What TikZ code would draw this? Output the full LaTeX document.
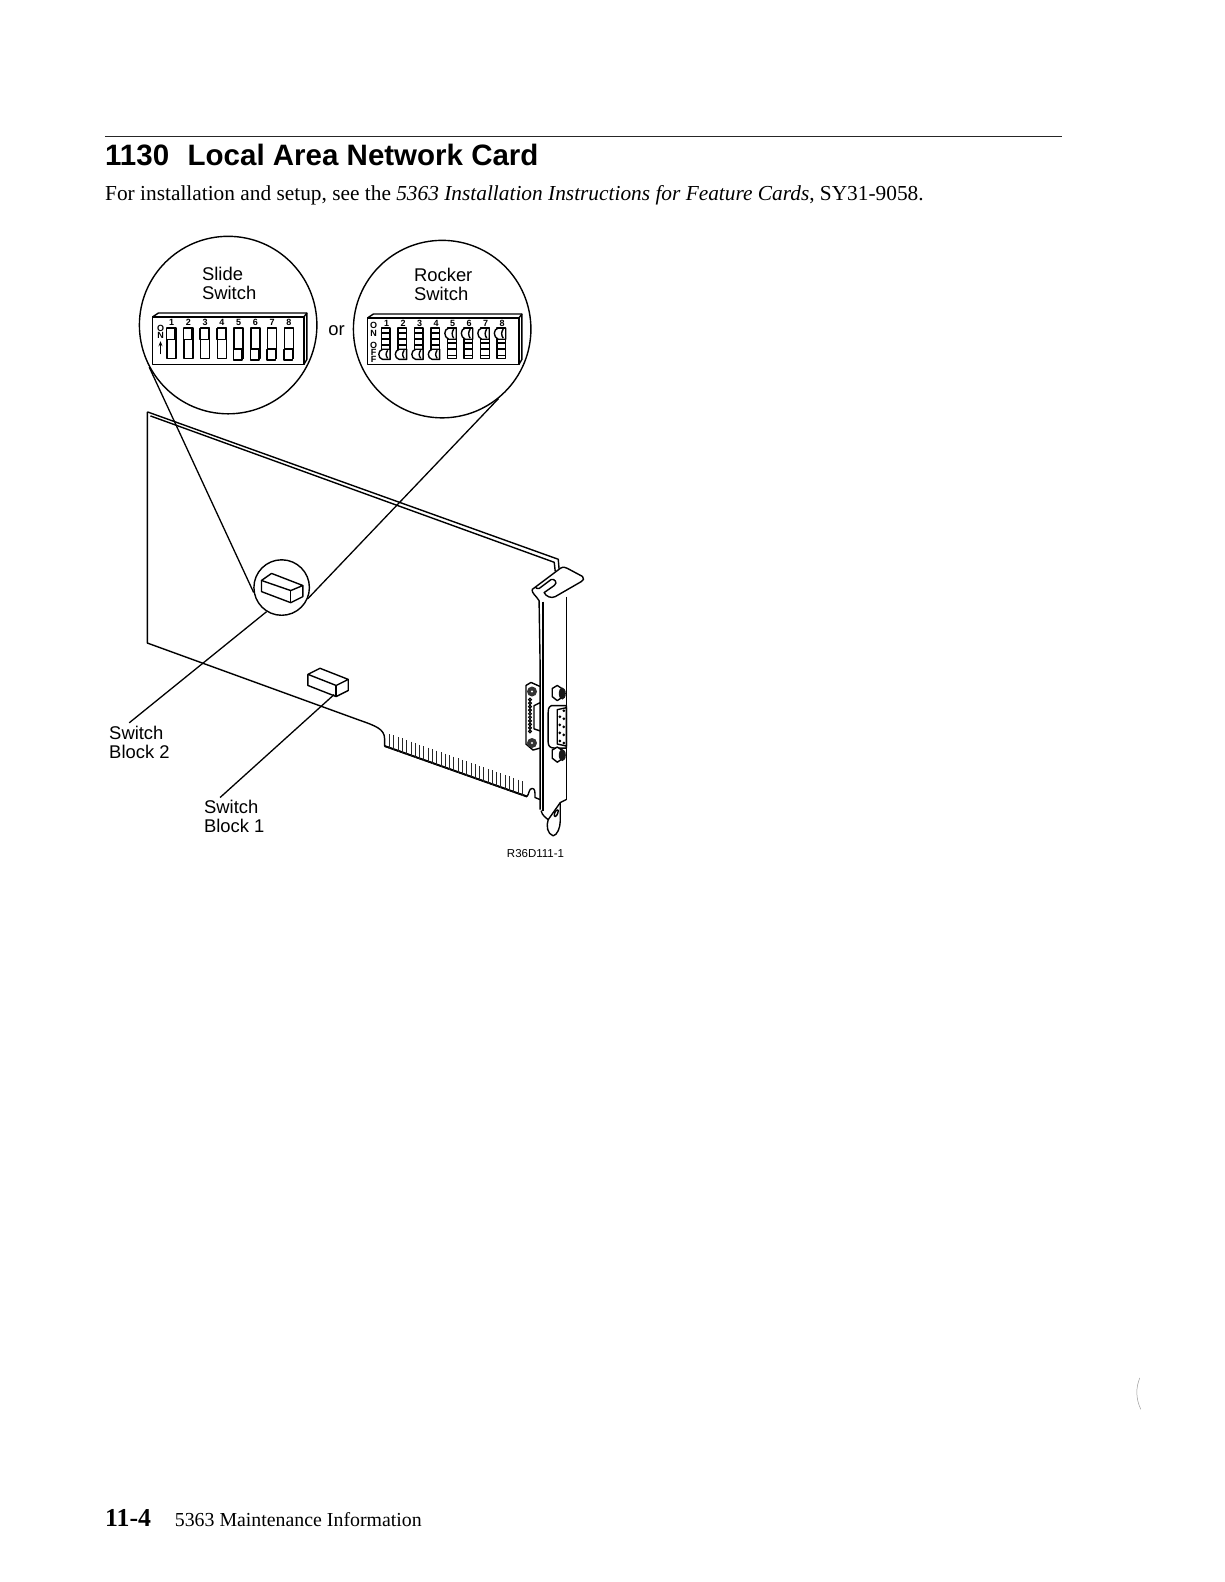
\documentclass[tikz,border=0pt]{standalone}
\usepackage{fontspec}
\usetikzlibrary{arrows.meta}
\setmainfont{Liberation Serif}
\setsansfont{Liberation Sans}
\tikzset{
  ln/.style={line width=1.4pt,line join=round,black},
  zoomc/.style={circle,draw=black,line width=1.4pt,inner sep=0pt},
  lbl/.style={font=\fontsize{18.4}{19.6}\selectfont\sffamily,align=left,anchor=north west,inner sep=0pt,black},
  tiny/.style={font=\fontsize{9}{9}\selectfont\sffamily\bfseries,inner sep=0pt,black},
  leader/.style={line width=1.3pt,black}
}
\begin{document}
\begin{tikzpicture}[x=1.0095pt,y=-1.0095pt]
\useasboundingbox (0,0) rectangle (1212.48,1567.1);
% page text
\draw[line width=0.9pt,black!85] (104,135) -- (1052,135);
\node[anchor=west,inner sep=0pt] (title) at (104,154) {\fontsize{29.5}{32}\selectfont\sffamily\bfseries 1130\hspace{0.35em} Local Area Network Card};
\node[anchor=west,inner sep=0pt] (intro) at (104,193) {\fontsize{21.35}{23}\selectfont For installation and setup, see the \textit{5363 Installation Instructions for Feature Cards}, SY31-9058.};
\node[anchor=west,inner sep=0pt] (foot1) at (104,1504) {\fontsize{25.8}{27}\selectfont\bfseries 11-4};
\node[anchor=west,inner sep=0pt] (foot2) at (173,1505) {\fontsize{19.85}{21}\selectfont 5363 Maintenance Information};
\draw[line width=0.5pt,black!40] (1129,1365) .. controls (1125,1375) and (1125,1385) .. (1130,1396);
% circles
\node[zoomc,minimum size=177.5pt] (slide) at (226,322) {};
\node[zoomc,minimum size=177.5pt] (rocker) at (438,326) {};
\node[zoomc,minimum size=55.5pt] (small) at (279,582) {};
\node[lbl] (slidelbl) at (200,264) {Slide\\Switch};
\node[lbl] (rockerlbl) at (410,265) {Rocker\\Switch};
\node[lbl] (orlbl) at (325,322) {or};
\node[lbl] (sb2) at (108,719) {Switch\\Block 2};
\node[lbl] (sb1) at (202,792) {Switch\\Block 1};
\node[anchor=west,inner sep=0pt,font=\fontsize{11.5}{12}\selectfont\sffamily] (fig) at (502,845) {R36D111-1};
% slide switch block
\begin{scope}[shift={(-2,-2)}]
\draw[ln] (153,316) rectangle (303,363);
\draw[ln] (153,316) -- (159,312) -- (306,312) -- (306,358) -- (303,363);
\draw[ln] (303,316) -- (306,312);
\foreach \i in {1,...,8}{
  \pgfmathsetmacro\xx{167.5+16.6*(\i-1)}
  \node[tiny] at (\xx+4.5,321) {\i};
  \draw[ln] (\xx,327) rectangle (\xx+9,357);
  \ifnum\i<5
    \draw[ln,fill=white] (\xx-0.5,327.5) rectangle (\xx+8,338);
    \draw[line width=1.8pt] (\xx+8.5,328) -- (\xx+8.5,338);
  \else
    \draw[ln,fill=white] (\xx-0.5,348) rectangle (\xx+8,358.5);
    \draw[line width=1.8pt] (\xx+8.5,347) -- (\xx+8.5,358);
    \draw[line width=1.8pt] (\xx,347.5) -- (\xx+9,347.5);
  \fi
}
\node[tiny] at (161,327) {O};
\node[tiny] at (161,334) {N};
\draw[line width=1pt,-{Stealth[length=5pt,width=4pt]}] (161,353) -- (161,340);
\end{scope}
% rocker switch block
\begin{scope}[shift={(-2,-2)}]
\draw[ln] (366,317) rectangle (516,363);
\draw[ln] (366,317) -- (372,313) -- (519,313) -- (519,358) -- (516,363);
\draw[ln] (516,317) -- (519,313);
\foreach \i in {1,...,8}{
  \pgfmathsetmacro\xx{380+16.35*(\i-1)}
  \node[tiny] at (\xx+5,322) {\i};
  \draw[ln] (\xx,327) rectangle (\xx+8.5,357);
  \ifnum\i<5
    \foreach \yy in {332,338,344}{\draw[line width=1.6pt] (\xx,\yy) -- (\xx+8.5,\yy);}
    \draw[ln,fill=white] (\xx+8.5,348) -- (\xx+1,348) .. controls (\xx-4,349) and (\xx-4,357) .. (\xx+1,358) -- (\xx+8.5,358) -- cycle;
    \draw[ln] (\xx+6,349) .. controls (\xx+4,352) and (\xx+4,354) .. (\xx+6,357);
  \else
    \foreach \yy in {342,348,354}{\draw[line width=1.6pt] (\xx,\yy) -- (\xx+8.5,\yy);}
    \draw[ln,fill=white] (\xx+8.5,327) -- (\xx+1,327) .. controls (\xx-4,328) and (\xx-4,336) .. (\xx+1,338) -- (\xx+8.5,338) -- cycle;
    \draw[ln] (\xx+6,328) .. controls (\xx+4,331) and (\xx+4,334) .. (\xx+6,337);
  \fi
}
\foreach \yy/\tt in {324/O,332/N,344/O,351/F,358/F}{\node[tiny] at (372,\yy) {\tt};}
\end{scope}
% adapter card
\draw[ln] (146,408) -- (146,637) -- (355,713) .. controls (372,719) and (381,722) .. (381,732) -- (381,739) -- (522,789);
\draw[line width=1.9pt,black] (381,739) -- (522,789);
\draw[ln] (146,408) -- (553,554) -- (554,566);
\draw[ln] (149,412) -- (549,557) -- (550,566);
\draw[ln] (522,789) .. controls (524,787) and (524,781) .. (527,781) .. controls (530,781) and (530,784) .. (530,790) -- (535,792);
\foreach \i in {0,...,31}{
  \pgfmathsetmacro\tx{386+4.24*\i}
  \pgfmathsetmacro\ty{727+0.355*4.24*\i}
  \draw[line width=1pt,black!85] (\tx,\ty) -- (\tx,\ty+14.5);
}
% bracket
\draw[ln,fill=white] (527,584) -- (555,563) .. controls (558,561) and (560,562) .. (562,563) -- (577,571) .. controls (579,573) and (578,575) .. (576,576) -- (550,591) .. controls (546,593) and (541,591) .. (539,587) -- (549,580) .. controls (553,577) and (549,573) .. (546,574) -- (534,583) .. controls (532,584) and (531,582) .. (530,581);
\draw[ln] (527,584) .. controls (527,588) and (531,590) .. (534,595) -- (535,656) -- (535,802);
\draw[line width=1.8pt] (538,596) -- (538,803);
\draw[ln] (561,591) -- (561,792);
\draw[ln] (536,803) .. controls (537,808) and (541,810) .. (543,812) -- (555,795) -- (561,792);
\draw[ln] (543,812) .. controls (541,818) and (542,826) .. (548,828) .. controls (552,827) and (555,820) .. (555,813) -- (555,795);
\draw[ln,fill=white] (549,808) .. controls (549,803) and (553,801) .. (553,803) .. controls (553,806) and (550,811) .. (549,808) -- cycle;
% rear connector
\draw[ln,fill=white] (521,679) -- (526,676) -- (535,680) -- (535,741) -- (528,743) -- (521,737) -- cycle;
\draw[ln,fill=white] (529,699) -- (535,696) -- (535,724) -- (529,722) -- cycle;
\foreach \yy in {693,696.5,...,726}{\draw[line width=1pt,fill=black!50] (525,\yy) circle (1.5pt);}
\fill[black!80] (527,685) circle (5pt);
\fill[black!80] (527,736) circle (5pt);
\fill[white] (527,685) circle (1.2pt);
\fill[white] (527,736) circle (1.2pt);
% D-shell connector
\draw[ln,fill=white] (546,699) .. controls (543,701) and (543,703) .. (543,706) -- (543,735) .. controls (543,739) and (545,741) .. (549,741) -- (561,741) -- (561,699) -- cycle;
\draw[ln,fill=white] (552,703) -- (561,701) -- (561,739) -- (552,737) -- cycle;
\foreach \yy in {708,716,724,732}{\fill[black] (554.5,\yy+2) circle (1.5pt);}
\foreach \yy in {704,712,720,728,736}{\fill[black] (558.5,\yy) circle (1.5pt);}
\foreach \yy in {688,749}{
  \draw[ln,fill=white] (547,\yy-6) -- (552,\yy-9) -- (558,\yy-5) -- (558,\yy+2) -- (552,\yy+6) -- (547,\yy+2) -- cycle;
  \fill[black!90] (557,\yy-1) ellipse (3.5pt and 6pt);
}
% switch blocks
\draw[ln] (259,575) -- (269,568) -- (300,580) -- (288,585) -- cycle;
\draw[ln] (259,575) -- (259,586) -- (288,597) -- (300,591) -- (300,580);
\draw[ln] (288,585) -- (288,597);
\draw[ln] (305,668) -- (317,662) -- (345,673) -- (333,679) -- cycle;
\draw[ln] (305,668) -- (305,679) -- (333,690) -- (345,684) -- (345,673);
\draw[ln] (333,679) -- (333,690);
% leader ends
\coordinate (blk1) at (331,688);
\coordinate (sb2end) at (128,716);
\coordinate (sb1end) at (218,790);
% leaders
\draw[leader] (slide.208) -- (small.190);
\draw[leader] (rocker.-51) -- (small.-23);
\draw[leader] (small.238) -- (sb2end);
\draw[leader] (blk1) -- (sb1end);
\end{tikzpicture}
\end{document}
